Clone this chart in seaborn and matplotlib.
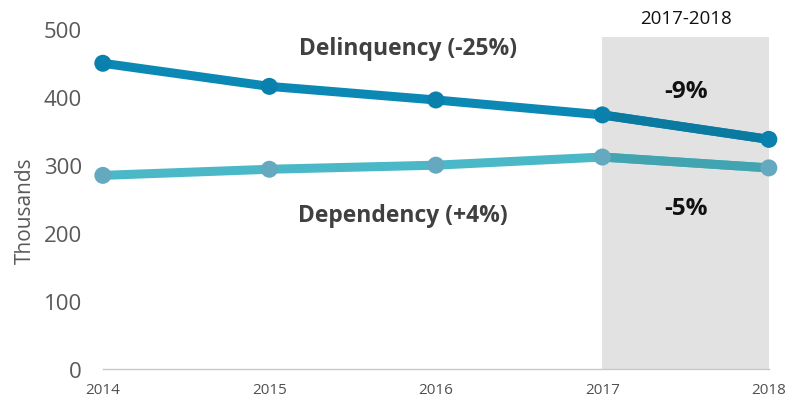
import numpy as np
import pandas as pd
import matplotlib.pyplot as plt
import seaborn as sns

years = [2014, 2015, 2016, 2017, 2018]
delinquency = [450, 416, 396, 374, 338]
dependency = [285, 294, 300, 312, 296]
series_names = ["Delinquency (-25%)", "Dependency (+4%)"]
change_labels = ["-9%", "-5%"]

sns.set_style("white")
plt.rcParams['font.family'] = ['Open Sans', 'DejaVu Sans']

df = pd.DataFrame({"year": years * 2,
                   "value": delinquency + dependency,
                   "series": [series_names[0]] * 5 + [series_names[1]] * 5})

fig = plt.figure(figsize=(7.91, 4.02), dpi=100)
ax = fig.add_axes([0.130, 0.0796, 0.842, 0.845])

# shaded 2017-2018 window
ax.axvspan(2017, 2018, ymin=0, ymax=488 / 500, color="#e2e2e2", zorder=0, lw=0)

line_cols = {series_names[0]: "#0c88b5", series_names[1]: "#4ab8c6"}
dark_cols = {series_names[0]: "#0a7aa0", series_names[1]: "#42a4b0"}
mark_cols = {series_names[0]: "#0a80ad", series_names[1]: "#64a9c0"}
for name in series_names:
    sub = df[df.series == name]
    sns.lineplot(data=sub, x="year", y="value", ax=ax, color=line_cols[name],
                 lw=6.5, zorder=2, legend=False)
    # the part over the grey window looks darker
    sns.lineplot(data=sub[sub.year >= 2017], x="year", y="value", ax=ax,
                 color=dark_cols[name], lw=6.5, zorder=2, legend=False)
    sns.scatterplot(data=sub, x="year", y="value", ax=ax, color=mark_cols[name],
                    s=150, edgecolor="none", zorder=3, legend=False)
for c in ax.collections:
    c.set_clip_on(False)
for l in ax.lines:
    l.set_clip_on(False)

ax.set_xlim(2014, 2018)
ax.set_ylim(0, 500)
ax.set_xticks(years)
ax.set_yticks(range(0, 501, 100))
ax.tick_params(axis="x", labelsize=11, colors="#505050", length=5, width=0.8,
               color="#c8c8c8", direction="out", pad=4)
ax.tick_params(axis="y", labelsize=16, colors="#595959", length=0, pad=15)
ax.set_xlabel("")
ax.set_ylabel("Thousands", fontsize=15, color="#595959")
ax.yaxis.set_label_coords(-0.1, 0.47)
for s in ["top", "right", "left"]:
    ax.spines[s].set_visible(False)
ax.spines["bottom"].set_color("#c8c8c8")
ax.spines["bottom"].set_linewidth(1)

ax.text(2015.83, 473, series_names[0], ha="center", va="center", fontsize=16.5,
        fontweight="bold", color="#404040")
ax.text(2015.8, 226, series_names[1], ha="center", va="center", fontsize=16.5,
        fontweight="bold", color="#404040")
ax.text(2017.5, 409, change_labels[0], ha="center", va="center", fontsize=17.5,
        fontweight="bold", color="#111111")
ax.text(2017.5, 237, change_labels[1], ha="center", va="center", fontsize=17.5,
        fontweight="bold", color="#111111")
ax.text(2017.5, 517, "2017-2018", ha="center", va="center", fontsize=13.5,
        color="#111111", clip_on=False)

fig.savefig("out.png", dpi=100)
